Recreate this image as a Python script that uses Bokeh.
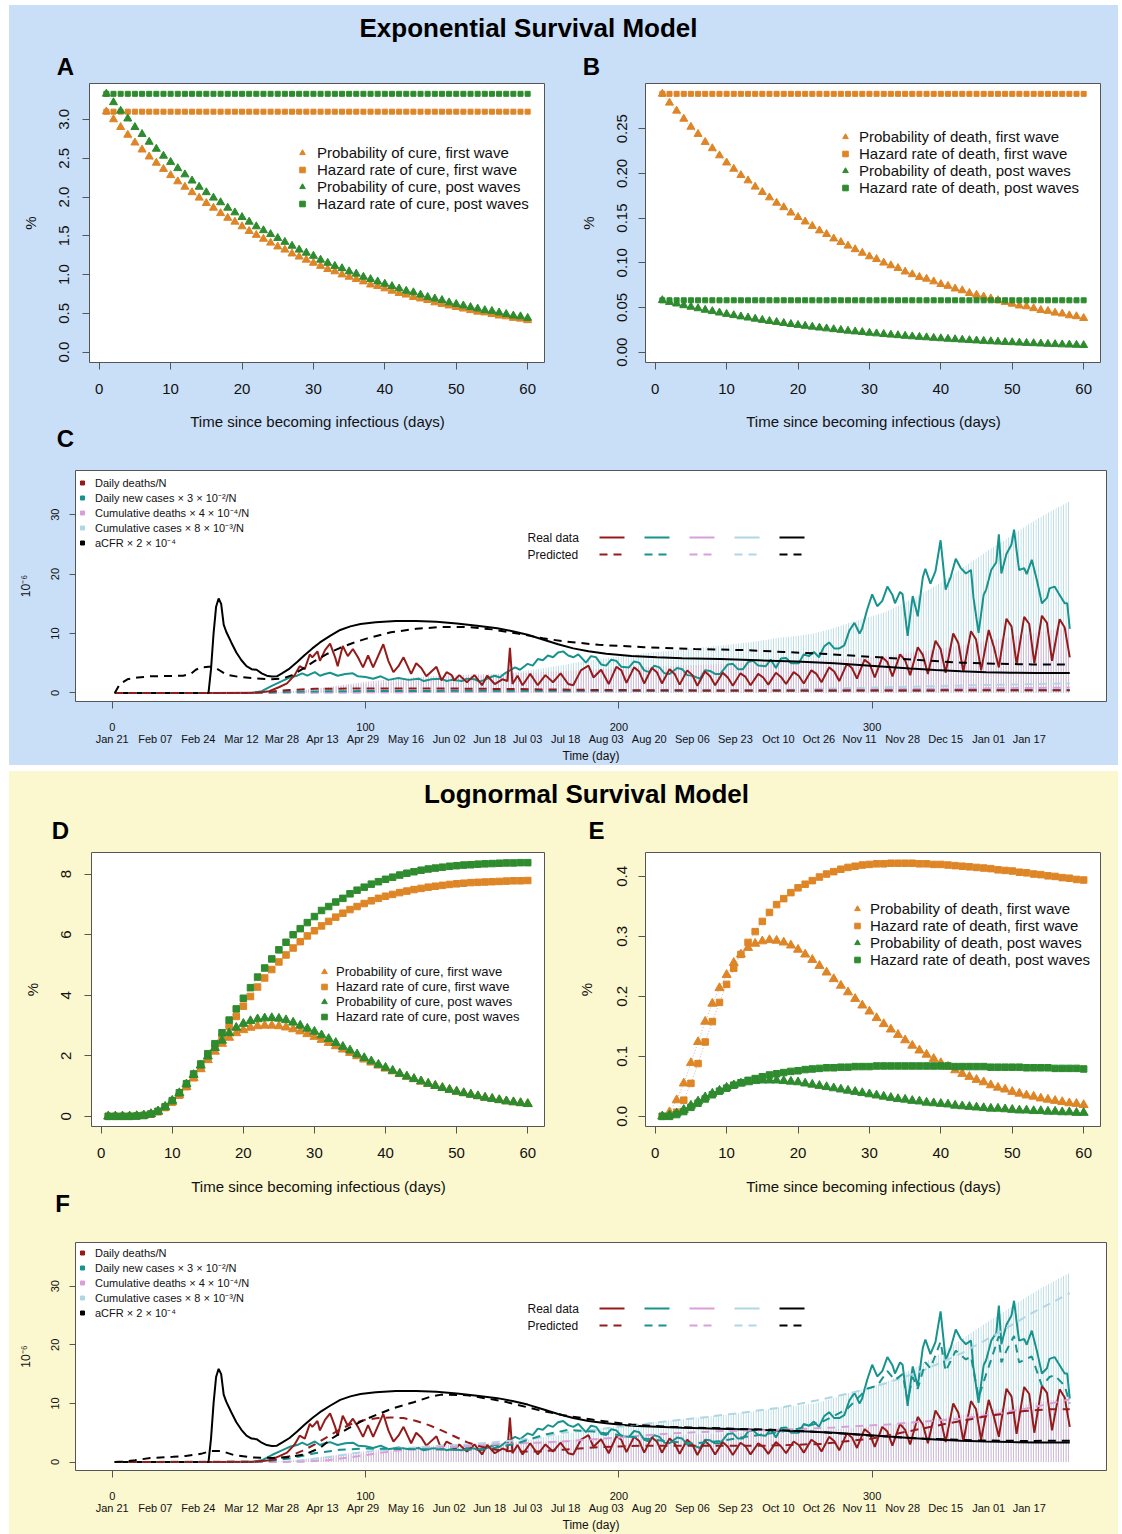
from bokeh.plotting import figure
from bokeh.models import Range1d, FixedTicker, LinearAxis, Label, Legend, LegendItem, Arrow, Spacer
from bokeh.layouts import column, row
from bokeh.embed import file_html
from bokeh.resources import INLINE

# ---------------- data ----------------
T_DAYS = list(range(1, 61))

# Panel A (exponential, cure)
PROB_CURE_FIRST_A = [3.10, 3.00, 2.90, 2.80, 2.70, 2.61, 2.52, 2.44, 2.36, 2.28, 2.20, 2.13, 2.06, 1.99, 1.92, 1.86, 1.79, 1.73, 1.68, 1.62,
                     1.56, 1.51, 1.46, 1.41, 1.36, 1.32, 1.27, 1.23, 1.19, 1.15, 1.11, 1.07, 1.04, 1.00, 0.97, 0.94, 0.91, 0.87, 0.85, 0.82,
                     0.79, 0.76, 0.74, 0.71, 0.69, 0.67, 0.64, 0.62, 0.60, 0.58, 0.56, 0.54, 0.52, 0.51, 0.49, 0.47, 0.46, 0.44, 0.43, 0.41]
HAZ_CURE_FIRST_A = [3.10, 3.10, 3.10, 3.10, 3.10, 3.10, 3.10, 3.10, 3.10, 3.10, 3.10, 3.10, 3.10, 3.10, 3.10, 3.10, 3.10, 3.10, 3.10, 3.10,
                    3.10, 3.10, 3.10, 3.10, 3.10, 3.10, 3.10, 3.10, 3.10, 3.10, 3.10, 3.10, 3.10, 3.10, 3.10, 3.10, 3.10, 3.10, 3.10, 3.10,
                    3.10, 3.10, 3.10, 3.10, 3.10, 3.10, 3.10, 3.10, 3.10, 3.10, 3.10, 3.10, 3.10, 3.10, 3.10, 3.10, 3.10, 3.10, 3.10, 3.10]
PROB_CURE_POST_A = [3.33, 3.22, 3.11, 3.01, 2.90, 2.81, 2.71, 2.62, 2.53, 2.45, 2.37, 2.29, 2.21, 2.13, 2.06, 1.99, 1.93, 1.86, 1.80, 1.74,
                    1.68, 1.62, 1.57, 1.52, 1.47, 1.42, 1.37, 1.32, 1.28, 1.24, 1.19, 1.15, 1.11, 1.08, 1.04, 1.01, 0.97, 0.94, 0.91, 0.88,
                    0.85, 0.82, 0.79, 0.77, 0.74, 0.71, 0.69, 0.67, 0.64, 0.62, 0.60, 0.58, 0.56, 0.54, 0.53, 0.51, 0.49, 0.47, 0.46, 0.44]
HAZ_CURE_POST_A = [3.33, 3.33, 3.33, 3.33, 3.33, 3.33, 3.33, 3.33, 3.33, 3.33, 3.33, 3.33, 3.33, 3.33, 3.33, 3.33, 3.33, 3.33, 3.33, 3.33,
                   3.33, 3.33, 3.33, 3.33, 3.33, 3.33, 3.33, 3.33, 3.33, 3.33, 3.33, 3.33, 3.33, 3.33, 3.33, 3.33, 3.33, 3.33, 3.33, 3.33,
                   3.33, 3.33, 3.33, 3.33, 3.33, 3.33, 3.33, 3.33, 3.33, 3.33, 3.33, 3.33, 3.33, 3.33, 3.33, 3.33, 3.33, 3.33, 3.33, 3.33]

# Panel B (exponential, death)
PROB_DEATH_FIRST_B = [0.289, 0.279, 0.270, 0.261, 0.252, 0.244, 0.235, 0.228, 0.220, 0.212, 0.205, 0.198, 0.192, 0.185, 0.179, 0.173, 0.167, 0.162, 0.156, 0.151,
                      0.146, 0.141, 0.136, 0.132, 0.127, 0.123, 0.119, 0.115, 0.111, 0.107, 0.104, 0.100, 0.097, 0.094, 0.090, 0.087, 0.084, 0.082, 0.079, 0.076,
                      0.074, 0.071, 0.069, 0.066, 0.064, 0.062, 0.060, 0.058, 0.056, 0.054, 0.052, 0.051, 0.049, 0.047, 0.046, 0.044, 0.043, 0.041, 0.040, 0.038]
HAZ_DEATH_FIRST_B = [0.289, 0.289, 0.289, 0.289, 0.289, 0.289, 0.289, 0.289, 0.289, 0.289, 0.289, 0.289, 0.289, 0.289, 0.289, 0.289, 0.289, 0.289, 0.289, 0.289,
                     0.289, 0.289, 0.289, 0.289, 0.289, 0.289, 0.289, 0.289, 0.289, 0.289, 0.289, 0.289, 0.289, 0.289, 0.289, 0.289, 0.289, 0.289, 0.289, 0.289,
                     0.289, 0.289, 0.289, 0.289, 0.289, 0.289, 0.289, 0.289, 0.289, 0.289, 0.289, 0.289, 0.289, 0.289, 0.289, 0.289, 0.289, 0.289, 0.289, 0.289]
PROB_DEATH_POST_B = [0.0580, 0.0560, 0.0542, 0.0523, 0.0506, 0.0489, 0.0472, 0.0457, 0.0441, 0.0426, 0.0412, 0.0398, 0.0385, 0.0372, 0.0359, 0.0347, 0.0336, 0.0324, 0.0313, 0.0303,
                     0.0293, 0.0283, 0.0273, 0.0264, 0.0255, 0.0247, 0.0238, 0.0230, 0.0223, 0.0215, 0.0208, 0.0201, 0.0194, 0.0188, 0.0181, 0.0175, 0.0169, 0.0164, 0.0158, 0.0153,
                     0.0148, 0.0143, 0.0138, 0.0133, 0.0129, 0.0124, 0.0120, 0.0116, 0.0112, 0.0109, 0.0105, 0.0101, 0.0098, 0.0095, 0.0091, 0.0088, 0.0085, 0.0083, 0.0080, 0.0077]
HAZ_DEATH_POST_B = [0.058, 0.058, 0.058, 0.058, 0.058, 0.058, 0.058, 0.058, 0.058, 0.058, 0.058, 0.058, 0.058, 0.058, 0.058, 0.058, 0.058, 0.058, 0.058, 0.058,
                    0.058, 0.058, 0.058, 0.058, 0.058, 0.058, 0.058, 0.058, 0.058, 0.058, 0.058, 0.058, 0.058, 0.058, 0.058, 0.058, 0.058, 0.058, 0.058, 0.058,
                    0.058, 0.058, 0.058, 0.058, 0.058, 0.058, 0.058, 0.058, 0.058, 0.058, 0.058, 0.058, 0.058, 0.058, 0.058, 0.058, 0.058, 0.058, 0.058, 0.058]

# Panel D (lognormal, cure)
PROB_CURE_FIRST_D = [0.0, 0.0, 0.0, 0.0, 0.01, 0.03, 0.07, 0.15, 0.29, 0.47, 0.70, 0.97, 1.26, 1.56, 1.86, 2.14, 2.40, 2.60, 2.75, 2.85,
                     2.93, 2.98, 3.00, 3.00, 2.98, 2.94, 2.88, 2.81, 2.72, 2.63, 2.53, 2.43, 2.32, 2.21, 2.10, 1.99, 1.88, 1.78, 1.68, 1.58,
                     1.49, 1.40, 1.31, 1.23, 1.15, 1.08, 1.01, 0.94, 0.88, 0.82, 0.77, 0.72, 0.67, 0.62, 0.58, 0.54, 0.50, 0.47, 0.44, 0.41]
HAZ_CURE_FIRST_D = [0.0, 0.0, 0.0, 0.0, 0.01, 0.03, 0.07, 0.15, 0.29, 0.47, 0.70, 0.98, 1.28, 1.60, 1.93, 2.27, 2.60, 2.97, 3.30, 3.64,
                    3.96, 4.27, 4.57, 4.85, 5.10, 5.33, 5.56, 5.77, 5.96, 6.13, 6.29, 6.44, 6.58, 6.71, 6.83, 6.93, 7.03, 7.12, 7.20, 7.27,
                    7.33, 7.39, 7.44, 7.49, 7.53, 7.57, 7.60, 7.63, 7.66, 7.68, 7.70, 7.72, 7.73, 7.74, 7.75, 7.76, 7.77, 7.78, 7.78, 7.79]
PROB_CURE_POST_D = [0.0, 0.0, 0.0, 0.0, 0.01, 0.03, 0.08, 0.17, 0.32, 0.52, 0.77, 1.06, 1.37, 1.68, 1.98, 2.26, 2.50, 2.75, 2.93, 3.06,
                    3.15, 3.21, 3.24, 3.25, 3.23, 3.18, 3.10, 3.00, 2.90, 2.80, 2.68, 2.56, 2.43, 2.30, 2.18, 2.05, 1.93, 1.82, 1.71, 1.61,
                    1.51, 1.41, 1.32, 1.24, 1.16, 1.08, 1.01, 0.94, 0.88, 0.82, 0.77, 0.72, 0.67, 0.62, 0.58, 0.54, 0.50, 0.47, 0.44, 0.41]
HAZ_CURE_POST_D = [0.0, 0.0, 0.0, 0.0, 0.01, 0.03, 0.08, 0.17, 0.32, 0.52, 0.78, 1.08, 1.40, 1.73, 2.07, 2.40, 2.76, 3.18, 3.55, 3.90,
                   4.25, 4.60, 4.90, 5.20, 5.50, 5.75, 6.00, 6.20, 6.40, 6.60, 6.80, 6.93, 7.08, 7.20, 7.35, 7.47, 7.57, 7.67, 7.75, 7.83,
                   7.90, 7.97, 8.03, 8.08, 8.13, 8.17, 8.20, 8.23, 8.26, 8.28, 8.30, 8.31, 8.33, 8.34, 8.35, 8.36, 8.37, 8.37, 8.38, 8.38]

# Panel E (lognormal, death)
PROB_DEATH_FIRST_E = [0.000, 0.007, 0.027, 0.055, 0.089, 0.124, 0.158, 0.188, 0.214, 0.236, 0.256, 0.270, 0.281, 0.288, 0.292, 0.294, 0.293, 0.290, 0.285, 0.278,
                      0.270, 0.261, 0.251, 0.240, 0.229, 0.218, 0.207, 0.196, 0.185, 0.175, 0.164, 0.154, 0.145, 0.136, 0.127, 0.118, 0.110, 0.103, 0.096, 0.089,
                      0.083, 0.077, 0.071, 0.066, 0.061, 0.057, 0.052, 0.048, 0.045, 0.041, 0.038, 0.035, 0.033, 0.030, 0.028, 0.026, 0.024, 0.022, 0.021, 0.019]
HAZ_DEATH_FIRST_E = [0.000, 0.001, 0.007, 0.027, 0.055, 0.088, 0.124, 0.158, 0.190, 0.220, 0.247, 0.270, 0.290, 0.308, 0.325, 0.340, 0.353, 0.363, 0.373, 0.381,
                     0.387, 0.393, 0.399, 0.404, 0.408, 0.412, 0.415, 0.417, 0.419, 0.420, 0.421, 0.421, 0.422, 0.422, 0.422, 0.422, 0.421, 0.421, 0.420, 0.420,
                     0.419, 0.418, 0.417, 0.416, 0.415, 0.414, 0.413, 0.411, 0.410, 0.409, 0.407, 0.406, 0.404, 0.403, 0.401, 0.400, 0.398, 0.397, 0.395, 0.394]
PROB_DEATH_POST_E = [0.000, 0.002, 0.005, 0.011, 0.018, 0.025, 0.032, 0.038, 0.043, 0.048, 0.052, 0.055, 0.057, 0.059, 0.060, 0.060, 0.060, 0.059, 0.058, 0.057,
                     0.055, 0.053, 0.051, 0.049, 0.047, 0.045, 0.043, 0.041, 0.039, 0.037, 0.035, 0.033, 0.031, 0.029, 0.028, 0.026, 0.025, 0.023, 0.022, 0.021,
                     0.020, 0.018, 0.017, 0.016, 0.015, 0.014, 0.013, 0.013, 0.012, 0.011, 0.010, 0.010, 0.009, 0.009, 0.008, 0.008, 0.007, 0.007, 0.006, 0.006]
HAZ_DEATH_POST_E = [0.000, 0.000, 0.003, 0.008, 0.015, 0.022, 0.029, 0.036, 0.042, 0.047, 0.052, 0.056, 0.060, 0.063, 0.066, 0.069, 0.071, 0.073, 0.075, 0.076,
                    0.078, 0.079, 0.080, 0.081, 0.081, 0.082, 0.082, 0.083, 0.083, 0.083, 0.084, 0.084, 0.084, 0.084, 0.084, 0.084, 0.084, 0.084, 0.084, 0.084,
                    0.084, 0.083, 0.083, 0.083, 0.083, 0.083, 0.082, 0.082, 0.082, 0.082, 0.082, 0.081, 0.081, 0.081, 0.081, 0.080, 0.080, 0.080, 0.080, 0.079]

# Panels C/F real data (day since Jan 21, value in 1e-6)
DEATH_DAYS = [1, 40, 57, 62, 66, 69, 72, 74, 76, 78, 79, 81, 82, 84, 86, 88, 89, 91, 93, 95,
              97, 99, 101, 103, 107, 109, 111, 113, 115, 118, 120, 122, 124, 128, 130, 132, 134, 135, 137, 140,
              143, 146, 148, 151, 154, 156, 157, 158, 160, 162, 165, 168, 171, 174, 177, 180, 182, 185, 188, 190,
              193, 196, 199, 201, 203, 206, 208, 210, 213, 215, 217, 220, 222, 224, 227, 229, 231, 234, 236, 238,
              241, 243, 245, 248, 250, 252, 255, 257, 259, 262, 264, 266, 269, 271, 273, 276, 278, 280, 283, 285,
              287, 290, 292, 294, 297, 299, 301, 304, 306, 308, 311, 313, 315, 318, 320, 322, 325, 327, 329, 332,
              334, 336, 339, 341, 343, 346, 348, 350, 353, 355, 357, 360, 362, 364, 367, 369, 371, 374, 376, 378]
DEATH_VALS = [0, 0, 0.05, 0.3, 1.0, 1.6, 3.0, 4.5, 4.0, 6.5, 6.0, 7.0, 5.4, 7.2, 8.3, 6.0, 4.5, 7.9, 6.2, 7.4,
              6.0, 4.3, 6.3, 4.3, 8.2, 5.4, 3.5, 4.5, 6.0, 3.2, 5.0, 4.2, 2.8, 4.4, 2.1, 3.5, 3.0, 2.1, 3.0, 1.8,
              3.0, 1.3, 2.9, 1.5, 2.3, 2.0, 7.6, 1.5, 2.9, 1.3, 3.2, 1.3, 3.0, 1.8, 3.3, 1.5, 1.3, 3.8, 4.6, 2.6,
              3.9, 1.5, 4.4, 3.8, 1.7, 4.3, 3.6, 1.6, 4.2, 3.5, 1.6, 4.0, 3.2, 1.4, 3.8, 3.0, 1.2, 3.6, 2.8, 1.3,
              3.4, 2.6, 1.2, 3.3, 2.7, 1.3, 3.2, 2.6, 1.4, 3.4, 2.7, 1.5, 3.5, 2.9, 1.6, 3.8, 3.2, 1.8, 4.3, 3.6,
              2.0, 4.9, 4.2, 2.4, 5.6, 4.9, 2.6, 6.0, 5.2, 2.8, 6.5, 5.5, 3.0, 7.7, 6.4, 3.2, 8.8, 7.4, 3.4, 10.0,
              8.4, 3.6, 10.4, 9.0, 3.8, 10.6, 7.8, 4.3, 12.5, 11.2, 4.8, 12.8, 11.6, 5.0, 13.0, 11.8, 5.4, 12.4, 11.0, 6.0]

CASE_DAYS = [1, 55, 59, 63, 67, 70, 73, 75, 77, 80, 82, 84, 86, 89, 92, 95, 97, 100, 103, 106,
             109, 113, 117, 121, 123, 126, 130, 132, 134, 138, 140, 143, 145, 147, 149, 151, 153, 155, 157, 159,
             161, 164, 166, 168, 170, 172, 174, 176, 178, 180, 182, 184, 187, 189, 191, 193, 195, 197, 199, 201,
             204, 206, 208, 210, 212, 214, 216, 218, 220, 223, 225, 227, 229, 232, 234, 236, 238, 240, 243, 245,
             247, 249, 251, 253, 255, 258, 260, 262, 264, 266, 268, 271, 273, 275, 277, 279, 281, 283, 285, 287,
             289, 291, 293, 295, 296, 298, 300, 302, 304, 306, 308, 309, 311, 312, 314, 316, 318, 320, 321, 323,
             325, 327, 329, 331, 333, 335, 337, 339, 340, 342, 344, 345, 347, 349, 350, 351, 353, 355, 356, 357,
             358, 360, 361, 363, 365, 367, 369, 370, 372, 374, 376, 377, 378]
CASE_VALS = [0, 0, 0.3, 1.2, 2.0, 2.6, 2.9, 3.3, 2.9, 3.5, 2.9, 3.2, 3.4, 2.9, 3.2, 3.3, 2.8, 2.7, 2.4, 2.8,
             2.2, 2.5, 2.2, 2.4, 2.0, 2.3, 2.4, 2.0, 2.2, 2.0, 2.4, 2.3, 1.9, 2.2, 2.6, 2.9, 2.6, 3.3, 3.8, 4.3,
             3.9, 4.9, 4.6, 5.7, 5.5, 6.3, 6.0, 6.8, 7.0, 6.3, 6.0, 6.5, 5.1, 6.2, 6.0, 4.8, 4.6, 5.6, 5.4, 4.4,
             4.3, 5.3, 5.1, 3.8, 3.5, 4.6, 4.3, 3.3, 3.2, 4.2, 4.0, 3.0, 2.9, 2.4, 3.8, 3.7, 3.2, 3.2, 4.8, 4.9,
             4.0, 4.0, 5.2, 5.4, 4.6, 4.5, 5.6, 4.2, 5.8, 5.9, 5.0, 5.0, 6.5, 6.2, 6.9, 6.0, 7.8, 8.5, 7.5, 7.5,
             8.0, 10.5, 11.8, 10.0, 10.8, 14.0, 16.6, 14.6, 15.5, 17.9, 16.5, 15.1, 17.0, 16.6, 9.6, 16.3, 12.9, 19.5, 20.9, 18.4,
             20.5, 25.7, 17.4, 19.5, 22.6, 21.0, 20.1, 20.7, 16.0, 10.1, 16.5, 17.4, 20.7, 22.0, 26.7, 20.1, 23.4, 25.0, 27.5, 24.0,
             20.7, 21.0, 20.0, 22.4, 19.0, 15.1, 16.0, 17.6, 17.9, 16.5, 15.1, 15.1, 10.8]

ACFR_DAYS = [1, 38, 39, 40, 41, 42, 43, 44, 45, 47, 49, 51, 53, 55, 57, 59, 61, 63, 65, 67,
             70, 73, 76, 79, 82, 86, 90, 94, 98, 104, 112, 120, 128, 136, 144, 152, 158, 164, 170, 176,
             182, 188, 195, 205, 215, 225, 240, 255, 270, 285, 295, 305, 315, 325, 335, 345, 355, 365, 378]
ACFR_VALS = [0, 0, 4.0, 10.0, 14.5, 15.9, 15.0, 11.5, 10.3, 8.5, 6.8, 5.5, 4.5, 4.0, 3.9, 3.3, 2.9, 2.75, 2.8, 3.3,
             4.1, 5.2, 6.4, 7.5, 8.5, 9.6, 10.6, 11.2, 11.6, 11.9, 12.1, 12.1, 12.0, 11.7, 11.3, 10.9, 10.4, 9.8, 9.0, 8.2,
             7.5, 7.0, 6.6, 6.2, 6.0, 5.85, 5.7, 5.5, 5.3, 5.0, 4.7, 4.4, 4.1, 3.85, 3.65, 3.5, 3.4, 3.35, 3.35]

CUMCASE_DAYS = [55, 60, 67, 74, 81, 88, 95, 102, 109, 116, 123, 130, 137, 144, 151, 158, 165, 172, 179, 186,
                193, 200, 207, 214, 221, 228, 235, 242, 249, 256, 263, 270, 277, 284, 291, 298, 305, 312, 319, 326,
                333, 340, 347, 354, 361, 368, 375, 378]
CUMCASE_VALS = [0, 0.02, 0.15, 0.45, 0.8, 1.1, 1.35, 1.55, 1.75, 1.95, 2.15, 2.35, 2.55, 2.8, 3.1, 3.45, 3.85, 4.3, 4.8, 5.3,
                5.75, 6.15, 6.5, 6.85, 7.15, 7.45, 7.75, 8.05, 8.4, 8.8, 9.3, 9.6, 10.0, 10.8, 11.8, 12.7, 13.6, 15.0, 16.6, 18.3,
                20.3, 22.3, 24.3, 26.2, 28.2, 30.0, 31.6, 32.3]
CUMDEATH_DAYS = [55, 62, 69, 76, 83, 90, 97, 104, 111, 118, 125, 132, 139, 146, 153, 160, 167, 174, 181, 188,
                 195, 202, 209, 216, 223, 230, 237, 244, 251, 258, 265, 272, 279, 286, 293, 300, 307, 314, 321, 328,
                 335, 342, 349, 356, 363, 370, 378]
CUMDEATH_VALS = [0, 0.02, 0.15, 0.45, 0.85, 1.3, 1.7, 2.05, 2.35, 2.6, 2.8, 2.95, 3.05, 3.15, 3.25, 3.35, 3.45, 3.6, 3.75, 3.9,
                 4.05, 4.2, 4.35, 4.5, 4.6, 4.7, 4.8, 4.9, 5.0, 5.1, 5.2, 5.3, 5.45, 5.6, 5.8, 6.05, 6.35, 6.7, 7.1, 7.55,
                 8.0, 8.5, 9.0, 9.5, 10.0, 10.5, 11.0]

# Predicted, exponential model (panel C)
ACFR_PRED_EXP_DAYS = [1, 3, 6, 10, 15, 20, 28, 31, 33, 35, 38, 40, 42, 45, 50, 55, 62, 67, 71, 75,
                      80, 85, 90, 95, 100, 110, 120, 130, 140, 150, 160, 170, 178, 192, 210, 230, 250, 265, 280, 295,
                      306, 320, 335, 350, 363, 378]
ACFR_PRED_EXP_VALS = [0.0, 1.5, 2.3, 2.6, 2.8, 2.85, 2.9, 3.2, 3.9, 4.3, 4.4, 4.4, 3.9, 3.1, 2.7, 2.5, 2.3, 2.4, 3.0, 4.0,
                      5.4, 6.6, 7.6, 8.4, 9.1, 10.2, 10.8, 11.1, 11.1, 10.7, 10.0, 9.2, 8.7, 8.1, 7.7, 7.4, 7.2, 6.9, 6.6, 6.2,
                      5.9, 5.5, 5.1, 4.9, 4.8, 4.8]
DEATH_PRED_EXP_DAYS = [1, 55, 62, 70, 80, 100, 130, 160, 190, 250, 300, 340, 378]
DEATH_PRED_EXP_VALS = [0, 0, 0.2, 0.5, 0.7, 0.75, 0.75, 0.65, 0.5, 0.4, 0.4, 0.45, 0.45]
CASE_PRED_EXP_DAYS = [1, 55, 70, 90, 130, 180, 250, 300, 340, 378]
CASE_PRED_EXP_VALS = [0, 0, 0.2, 0.3, 0.35, 0.35, 0.35, 0.4, 0.45, 0.45]
CUMDEATH_PRED_EXP_DAYS = [1, 60, 100, 200, 300, 378]
CUMDEATH_PRED_EXP_VALS = [0, 0, 0.1, 0.3, 0.6, 0.9]
CUMCASE_PRED_EXP_DAYS = [1, 60, 100, 200, 260, 300, 340, 378]
CUMCASE_PRED_EXP_VALS = [0, 0, 0.1, 0.3, 0.5, 0.9, 1.3, 1.6]

# Predicted, lognormal model (panel F)
ACFR_PRED_LN_DAYS = [1, 4, 9, 15, 24, 29, 35, 39, 43, 48, 55, 63, 69, 76, 82, 87, 93, 99, 104, 111,
                     119, 126, 130, 140, 154, 168, 178, 190, 205, 220, 240, 260, 280, 300, 320, 340, 360, 378]
ACFR_PRED_LN_VALS = [0, 0.1, 0.3, 0.7, 0.9, 1.05, 1.4, 1.9, 1.9, 1.2, 0.8, 0.7, 0.8, 1.3, 2.4, 4.1, 5.7, 7.1, 8.0, 9.2,
                     10.2, 11.2, 11.5, 11.4, 10.4, 8.9, 8.0, 7.2, 6.4, 6.0, 5.75, 5.5, 5.1, 4.5, 4.0, 3.7, 3.6, 3.65]
DEATH_PRED_LN_DAYS = [1, 55, 60, 65, 70, 75, 80, 85, 90, 95, 100, 105, 110, 115, 120, 125, 130, 135, 140, 145,
                      150, 155, 160, 168, 178, 190, 210, 240, 260, 280, 300, 315, 330, 345, 360, 370, 378]
DEATH_PRED_LN_VALS = [0, 0, 0.2, 0.5, 1.0, 1.9, 3.0, 4.3, 5.6, 6.6, 7.2, 7.5, 7.6, 7.5, 7.0, 6.3, 5.4, 4.4, 3.4, 2.7,
                      2.2, 1.9, 1.8, 1.8, 2.1, 2.5, 2.8, 2.8, 2.8, 3.1, 4.0, 5.3, 6.6, 7.8, 8.7, 9.0, 9.0]
CASE_PRED_LN_DAYS = [1, 60, 70, 80, 90, 100, 120, 140, 150, 160, 170, 180, 190, 200, 210, 220, 230, 240, 250, 260,
                     270, 280, 290, 298, 302, 306, 309, 312, 314, 316, 318, 321, 323, 327, 329, 333, 337, 339, 342, 345,
                     347, 350, 351, 353, 356, 358, 363, 367, 370, 372, 376, 378]
CASE_PRED_LN_VALS = [0, 0.1, 0.6, 1.5, 2.1, 2.3, 2.2, 2.1, 2.3, 3.2, 4.6, 5.5, 5.2, 4.6, 4.0, 3.5, 3.2, 3.6, 4.3, 4.9,
                     5.6, 6.8, 9.0, 12.5, 13.0, 15.5, 14.0, 15.0, 10.5, 14.5, 12.5, 17.0, 16.0, 20.5, 15.5, 19.0, 17.5, 18.0, 11.0, 15.0,
                     17.5, 21.5, 17.0, 19.0, 21.5, 17.0, 18.0, 13.0, 14.5, 14.8, 13.0, 10.0]
CUMDEATH_PRED_LN_DAYS = [1, 60, 75, 85, 97, 111, 126, 140, 154, 168, 178, 200, 221, 242, 264, 285, 306, 320, 335, 350, 363, 378]
CUMDEATH_PRED_LN_VALS = [0, 0, 0.05, 0.3, 1.0, 1.9, 2.4, 2.7, 3.1, 3.3, 3.5, 4.2, 4.9, 5.3, 5.5, 5.9, 6.4, 6.9, 7.4, 8.3, 9.3, 10.7]
CUMCASE_PRED_LN_DAYS = [1, 60, 70, 83, 97, 111, 126, 140, 154, 168, 178, 192, 206, 220, 235, 250, 264, 278, 292, 306,
                        320, 335, 349, 363, 378]
CUMCASE_PRED_LN_VALS = [0, 0, 0.1, 0.7, 1.6, 2.2, 2.7, 3.0, 3.5, 4.1, 5.0, 5.6, 6.3, 7.0, 7.7, 8.5, 9.3, 10.5, 11.8, 13.5,
                        15.6, 18.5, 21.8, 25.4, 28.8]

DATE_DAYS = [0, 17, 34, 51, 67, 83, 99, 116, 133, 149, 164, 179, 195, 212, 229, 246, 263, 279, 295, 312, 329, 346, 362]
DATE_LABELS = ["Jan 21", "Feb 07", "Feb 24", "Mar 12", "Mar 28", "Apr 13", "Apr 29", "May 16", "Jun 02", "Jun 18",
               "Jul 03", "Jul 18", "Aug 03", "Aug 20", "Sep 06", "Sep 23", "Oct 10", "Oct 26", "Nov 11", "Nov 28",
               "Dec 15", "Jan 01", "Jan 17"]

SERIES_LEGEND = ["Daily deaths/N", "Daily new cases \u00d7 3 \u00d7 10\u207b\u00b2/N",
                 "Cumulative deaths \u00d7 4 \u00d7 10\u207b\u2074/N", "Cumulative cases \u00d7 8 \u00d7 10\u207b\u00b3/N",
                 "aCFR \u00d7 2 \u00d7 10\u207b\u2074"]
XTITLE = "Time since becoming infectious (days)"

# ---------------- styles ----------------
BLUE = "#C9DEF7"
YELLOW = "#FBF7CE"
FONT = "Liberation Sans"
ORANGE = "#DE8526"
GREEN = "#2E8B2E"
RED = "#951B1B"
TEAL = "#17938E"
PINK = "#DA9FDA"
LBLUE = "#AFD7E3"
W = 1109


def style_axis(ax, ticks, labels, size, standoff, tick_out=7):
    ax.ticker = FixedTicker(ticks=ticks)
    ax.major_label_overrides = dict(zip(ticks, labels))
    ax.major_label_text_font = FONT
    ax.major_label_text_font_size = size
    ax.major_label_text_color = "#111111"
    ax.major_label_standoff = standoff
    ax.major_tick_out = tick_out
    ax.major_tick_in = 0
    ax.major_tick_line_color = "#555555"
    ax.minor_tick_line_color = None
    ax.axis_line_color = None
    ax.axis_label_text_font = FONT
    ax.axis_label_text_font_style = "normal"
    ax.axis_label_text_color = "#111111"


def make_fig(width, height, xr, yr, bl, br, bt, bb, bg):
    p = figure(width=width, height=height, x_range=Range1d(*xr), y_range=Range1d(*yr),
               min_border_left=bl, min_border_right=br, min_border_top=bt, min_border_bottom=bb,
               toolbar_location=None, output_backend="svg", border_fill_color=bg,
               background_fill_color="white", outline_line_color="#555555")
    p.grid.visible = False
    return p


def text_fig(height, bg, texts):
    """A frameless strip holding titles, axis titles and panel letters (screen px from its bottom-left)."""
    p = figure(width=W, height=height, x_range=Range1d(0, 1), y_range=Range1d(0, 1),
               x_axis_type=None, y_axis_type=None, min_border=0, toolbar_location=None,
               output_backend="svg", border_fill_color=bg, background_fill_color=bg,
               outline_line_color=None)
    for txt, x, y, size, bold in texts:
        p.add_layout(Label(x=x, y=y, x_units="screen", y_units="screen", text=txt, text_font=FONT,
                           text_font_style="bold" if bold else "normal", text_font_size=size,
                           text_align="center", text_baseline="middle",
                           text_color="black" if bold else "#111111"))
    return p


def survival_panel(width, height, borders, yr, yticks, ylabels, series, labels, leg, bg, msize, lab_standoffs):
    bl, br, bt, bb = borders
    p = make_fig(width, height, (-1.36, 62.36), yr, bl, br, bt, bb, bg)
    renderers = []
    for vals, marker, color in series:
        p.line(T_DAYS, vals, line_color="#9C9C9C", line_width=0.7, line_dash="1 2")
    for vals, marker, color in series:
        size = msize[0] if marker == "triangle" else msize[1]
        r = p.scatter(T_DAYS, vals, marker=marker, size=size, fill_color=color, line_color=color)
        renderers.append(r)
    style_axis(p.xaxis[0], [0, 10, 20, 30, 40, 50, 60], ["0", "10", "20", "30", "40", "50", "60"], "15px",
               lab_standoffs[0])
    style_axis(p.yaxis[0], yticks, ylabels, "15px", lab_standoffs[1])
    p.yaxis[0].major_label_orientation = "vertical"
    p.yaxis[0].axis_label = "%"
    p.yaxis[0].axis_label_text_font_size = "15px"
    p.yaxis[0].axis_label_standoff = lab_standoffs[2]
    lx, ly, fsize, lh, standoff = leg
    legend = Legend(items=[LegendItem(label=lab, renderers=[r]) for lab, r in zip(labels, renderers)],
                    location=(lx, ly), background_fill_alpha=0, border_line_color=None, padding=0, margin=0,
                    spacing=0, label_height=lh, glyph_height=lh, glyph_width=14, label_standoff=standoff,
                    label_text_font=FONT, label_text_font_size=fsize, label_text_color="#111111")
    p.add_layout(legend, "center")
    return p


def series_panel(height, top, bottom, bg, leg_y, rp_y, pred):
    p = make_fig(W, height, (-14.5, 392.5), (-1.44, 37.44), 66, 12, top, bottom, bg)
    p.varea(x=CUMCASE_DAYS, y1=0, y2=CUMCASE_VALS, fill_alpha=0, hatch_pattern="vertical_line",
            hatch_color=LBLUE, hatch_scale=2.5, hatch_weight=1.0)
    p.varea(x=CUMDEATH_DAYS, y1=0, y2=CUMDEATH_VALS, fill_alpha=0, hatch_pattern="vertical_line",
            hatch_color="#D6B2D6", hatch_scale=2.5, hatch_weight=1.0)
    p.line(CASE_DAYS, CASE_VALS, line_color=TEAL, line_width=2)
    p.line(DEATH_DAYS, DEATH_VALS, line_color=RED, line_width=2)
    p.line(ACFR_DAYS, ACFR_VALS, line_color="black", line_width=2)
    for days, vals, color in pred:
        p.line(days, vals, line_color=color, line_width=2, line_dash="8 6")

    style_axis(p.xaxis[0], [0, 100, 200, 300], ["0", "100", "200", "300"], "11px", 14, tick_out=7)
    dax = LinearAxis()
    style_axis(dax, DATE_DAYS, DATE_LABELS, "11px", -1, tick_out=0)
    dax.major_tick_line_color = None
    dax.axis_label = "Time (day)"
    dax.axis_label_text_font_size = "12px"
    dax.axis_label_standoff = 1
    p.add_layout(dax, "below")
    style_axis(p.yaxis[0], [0, 10, 20, 30], ["0", "10", "20", "30"], "11px", 10, tick_out=6)
    p.yaxis[0].major_label_orientation = "vertical"
    p.yaxis[0].axis_label = "10\u207b\u2076"
    p.yaxis[0].axis_label_text_font_size = "12px"
    p.yaxis[0].axis_label_standoff = 16

    nan = float("nan")
    dummies = []
    for c in [RED, TEAL, PINK, LBLUE, "black"]:
        dummies.append(p.scatter([nan], [nan], marker="square", size=6, fill_color=c, line_color=c))
    legend = Legend(items=[LegendItem(label=lab, renderers=[r]) for lab, r in zip(SERIES_LEGEND, dummies)],
                    location=(2, leg_y), background_fill_alpha=0, border_line_color=None, padding=0, margin=0,
                    spacing=0, label_height=15, glyph_height=15, glyph_width=10, label_standoff=8,
                    label_text_font=FONT, label_text_font_size="11px", label_text_color="#111111")
    p.add_layout(legend, "center")

    for txt, yy in [("Real data", rp_y[0]), ("Predicted", rp_y[1])]:
        p.add_layout(Label(x=452, y=yy, x_units="screen", y_units="screen", text=txt, text_font=FONT,
                           text_font_size="12px", text_baseline="middle", text_align="left",
                           text_color="#111111"))
    for i, c in enumerate([RED, TEAL, PINK, LBLUE, "black"]):
        x0 = 524 + 45 * i
        p.add_layout(Arrow(end=None, x_start=x0, y_start=rp_y[0], x_end=x0 + 25, y_end=rp_y[0],
                           start_units="screen", end_units="screen", line_color=c, line_width=2))
        p.add_layout(Arrow(end=None, x_start=x0, y_start=rp_y[1], x_end=x0 + 25, y_end=rp_y[1],
                           start_units="screen", end_units="screen", line_color=c, line_width=2,
                           line_dash="8 6"))
    return p


CURE_LABELS = ["Probability of cure, first wave", "Hazard rate of cure, first wave",
               "Probability of cure, post waves", "Hazard rate of cure, post waves"]
DEATH_LABELS = ["Probability of death, first wave", "Hazard rate of death, first wave",
                "Probability of death, post waves", "Hazard rate of death, post waves"]

# ---------------- blue block ----------------
head1 = text_fig(75, BLUE, [("Exponential Survival Model", 519, 53, "26px", True),
                            ("A", 56, 14, "24px", True), ("B", 582, 14, "24px", True)])
pA = survival_panel(551, 320, (80, 16, 3, 38), (-0.133, 3.463),
                    [0, 0.5, 1.0, 1.5, 2.0, 2.5, 3.0], ["0.0", "0.5", "1.0", "1.5", "2.0", "2.5", "3.0"],
                    [(PROB_CURE_FIRST_A, "triangle", ORANGE), (HAZ_CURE_FIRST_A, "square", ORANGE),
                     (PROB_CURE_POST_A, "triangle", GREEN), (HAZ_CURE_POST_A, "square", GREEN)],
                    CURE_LABELS, (206, 150, "15px", 17, 8), BLUE, (8, 5), (14, 13, 18))
pB = survival_panel(558, 320, (85, 18, 3, 38), (-0.0116, 0.3006),
                    [0, 0.05, 0.10, 0.15, 0.20, 0.25], ["0.00", "0.05", "0.10", "0.15", "0.20", "0.25"],
                    [(PROB_DEATH_FIRST_B, "triangle", ORANGE), (HAZ_DEATH_FIRST_B, "square", ORANGE),
                     (PROB_DEATH_POST_B, "triangle", GREEN), (HAZ_DEATH_POST_B, "square", GREEN)],
                    DEATH_LABELS, (193, 166, "15px", 17, 7), BLUE, (8, 5), (14, 11, 18))
stripC = text_fig(52, BLUE, [(XTITLE, 308, 31, "15px", False), (XTITLE, 864, 31, "15px", False),
                             ("C", 56, 14, "24px", True)])
pC = series_panel(313, 18, 59, BLUE, 151, (164, 147),
                  [(CUMCASE_PRED_EXP_DAYS, CUMCASE_PRED_EXP_VALS, LBLUE),
                   (CUMDEATH_PRED_EXP_DAYS, CUMDEATH_PRED_EXP_VALS, PINK),
                   (CASE_PRED_EXP_DAYS, CASE_PRED_EXP_VALS, TEAL),
                   (DEATH_PRED_EXP_DAYS, DEATH_PRED_EXP_VALS, RED),
                   (ACFR_PRED_EXP_DAYS, ACFR_PRED_EXP_VALS, "black")])

# ---------------- yellow block ----------------
head2 = text_fig(73, YELLOW, [("Lognormal Survival Model", 577, 51, "26px", True),
                              ("D", 51, 14, "24px", True), ("E", 587, 14, "24px", True)])
pD = survival_panel(551, 320, (82, 16, 8, 38), (-0.335, 8.715),
                    [0, 2, 4, 6, 8], ["0", "2", "4", "6", "8"],
                    [(PROB_CURE_FIRST_D, "triangle", ORANGE), (HAZ_CURE_FIRST_D, "square", ORANGE),
                     (PROB_CURE_POST_D, "triangle", GREEN), (HAZ_CURE_POST_D, "square", GREEN)],
                    CURE_LABELS, (226, 102, "13px", 15, 5), YELLOW, (9, 6.5), (14, 13, 18))
pE = survival_panel(558, 320, (85, 18, 8, 38), (-0.0169, 0.4399),
                    [0, 0.1, 0.2, 0.3, 0.4], ["0.0", "0.1", "0.2", "0.3", "0.4"],
                    [(PROB_DEATH_FIRST_E, "triangle", ORANGE), (HAZ_DEATH_FIRST_E, "square", ORANGE),
                     (PROB_DEATH_POST_E, "triangle", GREEN), (HAZ_DEATH_POST_E, "square", GREEN)],
                    DEATH_LABELS, (205, 158, "15px", 17, 6), YELLOW, (9, 6.5), (14, 11, 20))
stripF = text_fig(53, YELLOW, [(XTITLE, 309, 31, "15px", False), (XTITLE, 864, 31, "15px", False),
                               ("F", 53, 14, "24px", True)])
pF = series_panel(317, 25, 59, YELLOW, 150, (162, 145),
                  [(CUMCASE_PRED_LN_DAYS, CUMCASE_PRED_LN_VALS, LBLUE),
                   (CUMDEATH_PRED_LN_DAYS, CUMDEATH_PRED_LN_VALS, PINK),
                   (CASE_PRED_LN_DAYS, CASE_PRED_LN_VALS, TEAL),
                   (DEATH_PRED_LN_DAYS, DEATH_PRED_LN_VALS, RED),
                   (ACFR_PRED_LN_DAYS, ACFR_PRED_LN_VALS, "black")])

blue_block = column(row(head1), row(pA, pB), row(stripC), row(pC), styles={"background-color": BLUE})
yellow_block = column(row(head2), row(pD, pE), row(stripF), row(pF), styles={"background-color": YELLOW})
content = column(Spacer(width=W, height=5), blue_block, Spacer(width=W, height=6), yellow_block)
root = row(Spacer(width=9, height=10), content)

open("out.html", "w").write(file_html(root, INLINE, title="Survival models"))
